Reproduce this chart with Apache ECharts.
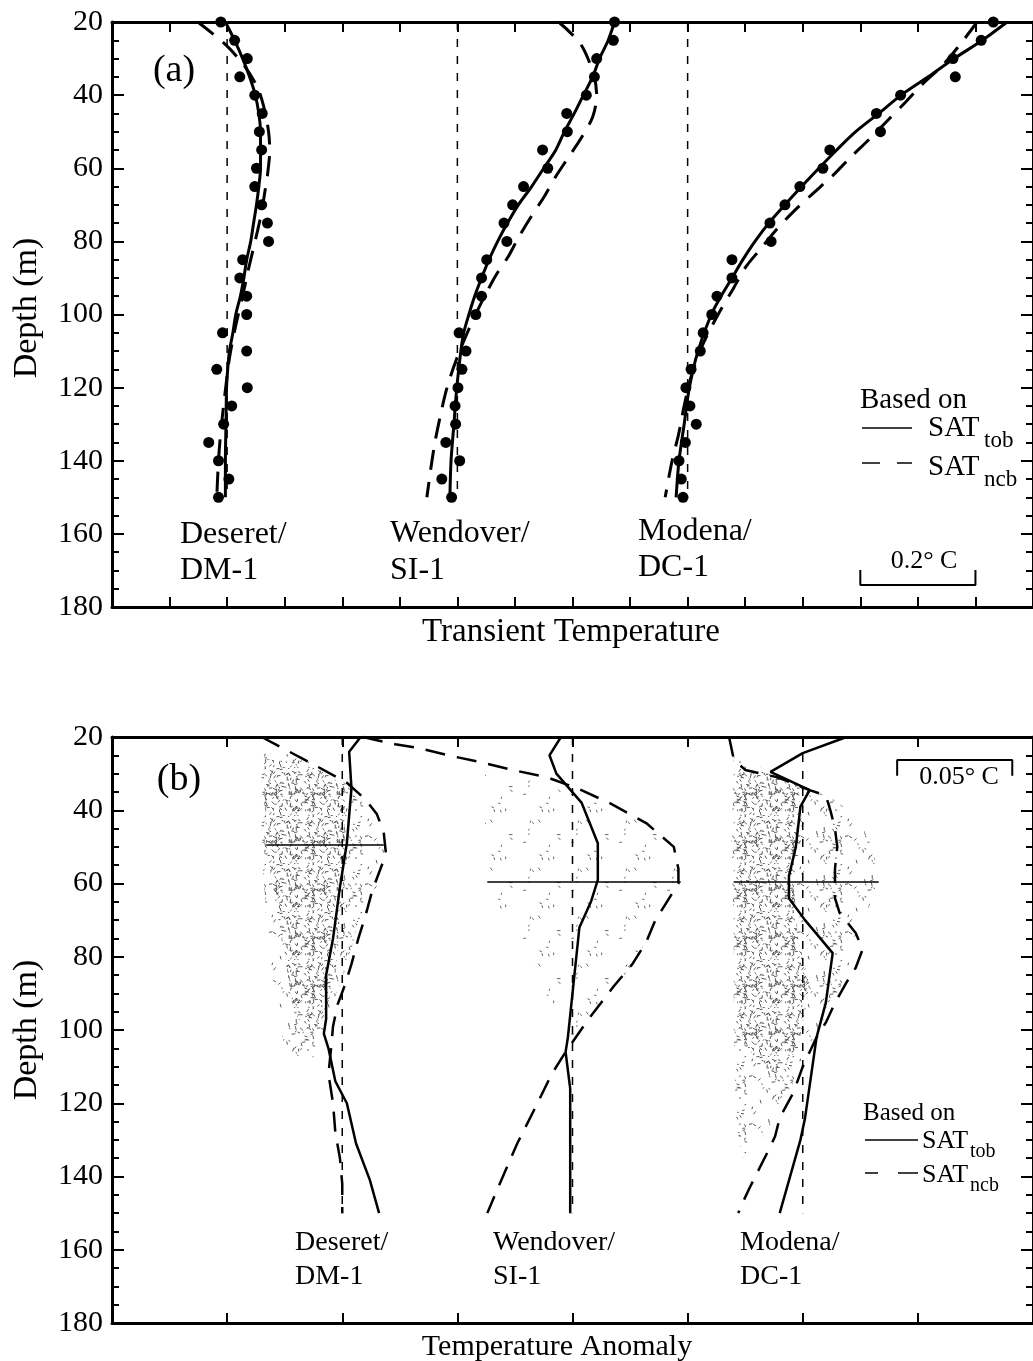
<!DOCTYPE html>
<html>
<head>
<meta charset="utf-8">
<script src="https://cdn.jsdelivr.net/npm/echarts@6/dist/echarts.min.js"></script>
<style>
  html, body { margin: 0; padding: 0; background: #fff; }
  #chart { width: 1033px; height: 1361px; }
</style>
</head>
<body>
<div id="chart"></div>
<script>
// ---- panel (a): transient temperature, x in deg C, y = depth (m)
var dotDepth = [20,25,30,35,40,45,50,55,60,65,70,75,80,85,90,95,100,105,110,115,120,125,130,135,140,145,150];
var deseretDotsA = [0.189,0.213,0.235,0.222,0.248,0.261,0.256,0.260,0.251,0.248,0.260,0.270,0.272,0.227,0.222,0.234,0.234,0.192,0.234,0.182,0.235,0.208,0.194,0.168,0.185,0.203,0.185];
var wendoverDotsA = [0.873,0.871,0.842,0.838,0.824,0.790,0.791,0.748,0.757,0.715,0.696,0.681,0.686,0.651,0.642,0.642,0.632,0.603,0.615,0.608,0.601,0.596,0.597,0.580,0.604,0.573,0.590];
var modenaDotsA = [1.531,1.510,1.461,1.465,1.370,1.328,1.335,1.247,1.235,1.195,1.169,1.143,1.145,1.077,1.077,1.051,1.042,1.027,1.022,1.006,0.997,1.004,1.015,0.996,0.985,0.989,0.992];

var deseretTobDepthA = [20,25,30,35,40,45,50,55,60,65,70,75,80,85,90,95,100,105,110,115,120,130,140,150];
var deseretTobA = [0.197,0.213,0.227,0.239,0.249,0.255,0.258,0.258,0.258,0.255,0.251,0.246,0.241,0.234,0.229,0.223,0.215,0.210,0.204,0.201,0.199,0.198,0.197,0.197];
var deseretNcbDepthA = [20,26,32,38,44,50,55,62,67,72,77,83,89,95,103,112,122,132,140,150];
var deseretNcbA = [0.149,0.196,0.230,0.253,0.265,0.272,0.274,0.270,0.265,0.260,0.253,0.244,0.235,0.227,0.215,0.204,0.196,0.189,0.185,0.182];

var wendoverTobDepthA = [20,25,30,35,40,45,50,55,60,65,70,75,80,85,90,95,100,105,110,120,130,140,150];
var wendoverTobA = [0.873,0.862,0.847,0.835,0.819,0.803,0.786,0.771,0.750,0.729,0.706,0.687,0.670,0.655,0.642,0.630,0.620,0.611,0.606,0.599,0.594,0.589,0.587];
var wendoverNcbDepthA = [20,26,34,40,46,52,57,62,68,73,79,84,89,96,104,112,120,128,135,142,150];
var wendoverNcbA = [0.776,0.814,0.836,0.842,0.835,0.814,0.793,0.772,0.750,0.729,0.706,0.689,0.668,0.644,0.620,0.599,0.582,0.570,0.561,0.554,0.547];

var modenaTobDepthA = [20,25,30,35,40,45,50,55,60,65,70,75,80,85,90,95,100,110,120,130,140,150];
var modenaTobA = [1.555,1.512,1.463,1.418,1.371,1.332,1.292,1.259,1.228,1.198,1.169,1.141,1.117,1.096,1.077,1.058,1.041,1.018,1.003,0.994,0.985,0.980];
var modenaNcbDepthA = [20,26,32,37,42,47,52,57,62,67,72,77,82,87,93,100,108,117,125,133,140,150];
var modenaNcbA = [1.503,1.474,1.442,1.408,1.378,1.347,1.316,1.283,1.252,1.217,1.183,1.153,1.127,1.101,1.079,1.053,1.027,1.006,0.994,0.984,0.973,0.961];

var baselineA = [0.2, 0.6, 1.0];

// ---- panel (b): temperature anomaly
var deseretTobDepthB = [20,24,34,49,61,75,85,97,101,105,114,120,131,141,150];
var deseretTobB = [0.108,0.103,0.104,0.102,0.099,0.096,0.093,0.093,0.092,0.094,0.097,0.102,0.106,0.112,0.116];
var deseretNcbDepthB = [20,24,28,32.5,37,41,46,52,57,62,69,75,82,88,93,99,106,112,120,128,135,142,150];
var deseretNcbB = [0.065,0.077,0.089,0.102,0.110,0.115,0.118,0.119,0.116,0.113,0.110,0.107,0.104,0.101,0.098,0.096,0.095,0.094,0.096,0.097,0.099,0.100,0.100];

var wendoverTobDepthB = [20,25,30,38,49,59,65,72,84,102,106,116,130,150];
var wendoverTobB = [0.195,0.190,0.193,0.204,0.211,0.211,0.208,0.203,0.201,0.198,0.197,0.199,0.199,0.199];
var wendoverNcbDepthB = [20,22,23,25,27,29,31,34,38,43.5,50,56,60,65,70,76,82,88,97,106,112,121,131,144,150];
var wendoverNcbB = [0.109,0.123,0.133,0.146,0.161,0.174,0.189,0.202,0.216,0.232,0.244,0.246,0.246,0.241,0.236,0.232,0.226,0.218,0.207,0.197,0.191,0.184,0.176,0.167,0.163];

var modenaTobDepthB = [20,24.4,29.5,34.5,39,50,58,64,70,79,92.6,102,124,130,150];
var modenaTobB = [0.319,0.300,0.286,0.303,0.299,0.297,0.294,0.294,0.301,0.313,0.310,0.306,0.301,0.299,0.290];
var modenaNcbDepthB = [20,26,29,31,34.5,36,40,45,50,56,64,68,73.5,78,83,87,92.6,98,102,110,117,124,129,133,138,143,147,150];
var modenaNcbB = [0.268,0.270,0.275,0.289,0.303,0.310,0.312,0.314,0.315,0.314,0.314,0.316,0.323,0.326,0.323,0.319,0.314,0.310,0.306,0.300,0.296,0.290,0.288,0.285,0.281,0.277,0.274,0.272];

var baselineB = [0.1, 0.2, 0.3];
var baselineDepth = [20, 150];
// [x from, x to, depth]
var hLinesB = [[0.067, 0.118, 49.5], [0.163, 0.247, 59.6], [0.270, 0.333, 59.6]];

// shaded (stippled) regions, outline points [x, depth]
var deseretShade = [[0.065,24],[0.081,25],[0.094,29],[0.102,33],[0.110,38],[0.116,44],[0.120,52],[0.117,58],[0.113,64],[0.107,70],[0.104,78],[0.099,88],[0.094,95],[0.091,102],[0.087,108],[0.079,110],[0.075,106],[0.073,98],[0.071,90],[0.068,80],[0.067,70],[0.066,60],[0.065,50],[0.065,40],[0.065,30]];
var deseretCore = [[0.066,26],[0.081,27],[0.094,30],[0.101,34],[0.101,55],[0.099,70],[0.097,85],[0.092,97],[0.086,102],[0.079,95],[0.075,80],[0.071,65],[0.067,50]];
var wendoverShade = [[0.162,30],[0.185,32],[0.211,37],[0.229,42],[0.242,48],[0.247,55],[0.247,62],[0.239,67],[0.233,73],[0.229,80],[0.220,88],[0.211,95],[0.205,100],[0.198,102],[0.192,95],[0.185,85],[0.177,75],[0.168,68],[0.164,60],[0.162,45]];
var modenaShade = [[0.270,25],[0.281,28],[0.294,33],[0.311,36],[0.324,42],[0.330,50],[0.333,58],[0.329,66],[0.323,75],[0.319,85],[0.311,95],[0.303,105],[0.298,112],[0.291,120],[0.285,127],[0.278,133],[0.274,135],[0.271,125],[0.270,100],[0.270,75],[0.269,50]];
var modenaCore = [[0.270,27],[0.285,30],[0.298,33],[0.300,45],[0.296,60],[0.298,75],[0.303,88],[0.298,105],[0.289,112],[0.281,110],[0.272,100],[0.270,70]];

// scale bars [x, depth]
var scaleBarA = [[1.3,169.9],[1.3,174],[1.5,174],[1.5,169.9]];
var scaleBarB = [[0.341,30.6],[0.341,26.3],[0.391,26.3],[0.391,30.6]];

var SERIF = "'Liberation Serif', 'Times New Roman', serif";

function pairs(xs, ds) { return xs.map(function (x, i) { return [x, ds[i]]; }); }

// small texture tile of gray flecks, used as a polygon fill
function stipple(count, seed, col) {
  var size = 48;
  var c = document.createElement('canvas');
  c.width = size; c.height = size;
  var g = c.getContext('2d');
  g.strokeStyle = col;
  g.lineWidth = 1;
  var s = seed;
  function rnd() { s = (s * 16807) % 2147483647; return s / 2147483647; }
  for (var i = 0; i < count; i++) {
    var x = rnd() * size, y = rnd() * size, a = rnd() * Math.PI, l = 1.5 + rnd() * 2.5;
    g.beginPath();
    g.moveTo(x, y);
    g.lineTo(x + Math.cos(a) * l, y + Math.sin(a) * l);
    g.stroke();
  }
  return c;
}
var thinPat = stipple(14, 4321, '#666');
var sparsePat = stipple(45, 1234, '#5a5a5a');
var densePat = stipple(140, 98765, '#555');

function xAx(grid, pos, max, interval) {
  return {
    gridIndex: grid, type: 'value', position: pos, min: 0, max: max, interval: interval,
    axisLine: { show: true, onZero: false, lineStyle: { color: '#000', width: 3 } },
    axisTick: { show: true, inside: true, length: 10, lineStyle: { color: '#000', width: 2 } },
    axisLabel: { show: false }, splitLine: { show: false }
  };
}
function yAx(grid, pos, labels) {
  return {
    gridIndex: grid, type: 'value', position: pos, inverse: true, min: 20, max: 180, interval: 20,
    axisLine: { show: true, onZero: false, lineStyle: { color: '#000', width: 3 } },
    axisTick: { show: true, inside: true, length: 12, lineStyle: { color: '#000', width: 2 } },
    minorTick: { show: true, splitNumber: 4, length: 7, lineStyle: { color: '#000', width: 2 } },
    axisLabel: { show: labels, margin: 9, color: '#000', fontSize: 30, fontFamily: SERIF },
    splitLine: { show: false }, minorSplitLine: { show: false }
  };
}

function line(axis, data, width, dash, smooth) {
  return {
    type: 'line', xAxisIndex: axis, yAxisIndex: axis, data: data,
    showSymbol: false, symbol: 'none', smooth: smooth || false, clip: false, silent: true,
    lineStyle: { color: '#000', width: width, type: dash || 'solid', opacity: 1 }, z: 3
  };
}
function dots(axis, xs) {
  return {
    type: 'scatter', xAxisIndex: axis, yAxisIndex: axis, data: pairs(xs, dotDepth),
    symbolSize: 11, clip: false, silent: true, itemStyle: { color: '#000', opacity: 1 }, z: 4
  };
}
function shade(axis, pts, pat) {
  return {
    type: 'custom', xAxisIndex: axis, yAxisIndex: axis, data: pts, silent: true, z: 1, clip: false,
    renderItem: function (params, api) {
      if (params.dataIndex !== 0) return null;
      return {
        type: 'polygon',
        shape: { points: pts.map(function (p) { return api.coord(p); }) },
        style: { fill: { image: pat, repeat: 'repeat' }, stroke: null }
      };
    }
  };
}

var series = [];
var BASE_DASH = [8, 9], NCB_DASH = [20, 12];

// panel (a)
baselineA.forEach(function (b) {
  series.push(line(0, [[b, baselineDepth[0]], [b, baselineDepth[1]]], 1.5, BASE_DASH));
});
series.push(line(0, pairs(deseretTobA, deseretTobDepthA), 3, null, 0.3));
series.push(line(0, pairs(deseretNcbA, deseretNcbDepthA), 3, NCB_DASH, 0.3));
series.push(line(0, pairs(wendoverTobA, wendoverTobDepthA), 3, null, 0.3));
series.push(line(0, pairs(wendoverNcbA, wendoverNcbDepthA), 3, NCB_DASH, 0.3));
series.push(line(0, pairs(modenaTobA, modenaTobDepthA), 3, null, 0.3));
series.push(line(0, pairs(modenaNcbA, modenaNcbDepthA), 3, NCB_DASH, 0.3));
series.push(dots(0, deseretDotsA));
series.push(dots(0, wendoverDotsA));
series.push(dots(0, modenaDotsA));
series.push(line(0, scaleBarA, 2));

// panel (b)
series.push(shade(2, deseretShade, sparsePat));
series.push(shade(2, deseretCore, densePat));
series.push(shade(2, wendoverShade, thinPat));
series.push(shade(2, modenaShade, sparsePat));
series.push(shade(2, modenaCore, densePat));
baselineB.forEach(function (b) {
  series.push(line(2, [[b, baselineDepth[0]], [b, baselineDepth[1]]], 1.5, BASE_DASH));
});
hLinesB.forEach(function (h) {
  series.push(line(2, [[h[0], h[2]], [h[1], h[2]]], 1.5));
});
series.push(line(2, pairs(deseretTobB, deseretTobDepthB), 2.5));
series.push(line(2, pairs(deseretNcbB, deseretNcbDepthB), 2.5, NCB_DASH));
series.push(line(2, pairs(wendoverTobB, wendoverTobDepthB), 2.5));
series.push(line(2, pairs(wendoverNcbB, wendoverNcbDepthB), 2.5, NCB_DASH));
series.push(line(2, pairs(modenaTobB, modenaTobDepthB), 2.5));
series.push(line(2, pairs(modenaNcbB, modenaNcbDepthB), 2.5, NCB_DASH));
series.push(line(2, scaleBarB, 2));

function txt(x, y, s, size, extra) {
  var o = {
    type: 'text', x: x, y: y, silent: true, z: 10,
    style: { text: s, fill: '#000', font: size + 'px ' + SERIF, align: 'left', verticalAlign: 'middle' }
  };
  if (extra) {
    if (extra.align) o.style.align = extra.align;
    if (extra.rotation) o.rotation = extra.rotation;
  }
  return o;
}
function seg(x1, y1, x2, y2, w) {
  return { type: 'line', silent: true, z: 10, shape: { x1: x1, y1: y1, x2: x2, y2: y2 }, style: { stroke: '#000', lineWidth: w || 1.5 } };
}

var graphics = [
  // panel (a)
  txt(174, 71, '(a)', 38, { align: 'center' }),
  txt(180, 535, 'Deseret/', 32), txt(180, 571, 'DM-1', 32),
  txt(390, 534, 'Wendover/', 32), txt(390, 571, 'SI-1', 32),
  txt(638, 532, 'Modena/', 32), txt(638, 568, 'DC-1', 32),
  txt(860, 400, 'Based on', 29),
  seg(862, 428, 912, 428), txt(928, 428, 'SAT', 29), txt(984, 441, 'tob', 23),
  seg(862, 463, 880, 463), seg(897, 463, 912, 463), txt(928, 467, 'SAT', 29), txt(984, 480, 'ncb', 23),
  txt(924, 561, '0.2\u00b0 C', 26, { align: 'center' }),
  txt(571, 632, 'Transient Temperature', 33, { align: 'center' }),
  txt(27, 308, 'Depth (m)', 34, { align: 'center', rotation: Math.PI / 2 }),
  // panel (b)
  txt(179, 780, '(b)', 38, { align: 'center' }),
  txt(295, 1243, 'Deseret/', 28), txt(295, 1277, 'DM-1', 28),
  txt(493, 1243, 'Wendover/', 28), txt(493, 1277, 'SI-1', 28),
  txt(740, 1243, 'Modena/', 28), txt(740, 1277, 'DC-1', 28),
  txt(863, 1113, 'Based on', 25),
  seg(865, 1140, 918, 1140), txt(922, 1141, 'SAT', 26), txt(970, 1152, 'tob', 20),
  seg(865, 1173, 878, 1173), seg(898, 1173, 918, 1173), txt(922, 1175, 'SAT', 26), txt(970, 1186, 'ncb', 20),
  txt(959, 777, '0.05\u00b0 C', 26, { align: 'center' }),
  txt(557, 1347, 'Temperature Anomaly', 30, { align: 'center' }),
  txt(27, 1030, 'Depth (m)', 34, { align: 'center', rotation: Math.PI / 2 })
];

var chart = echarts.init(document.getElementById('chart'));
chart.setOption({
  animation: false,
  backgroundColor: '#fff',
  grid: [
    { left: 112, top: 22, width: 924, height: 585 },
    { left: 112, top: 737, width: 924, height: 586 }
  ],
  xAxis: [xAx(0, 'bottom', 1.6, 0.1), xAx(0, 'top', 1.6, 0.1), xAx(1, 'bottom', 0.4, 0.05), xAx(1, 'top', 0.4, 0.05)],
  yAxis: [yAx(0, 'left', true), yAx(0, 'right', false), yAx(1, 'left', true), yAx(1, 'right', false)],
  series: series,
  graphic: graphics
});
</script>
</body>
</html>
